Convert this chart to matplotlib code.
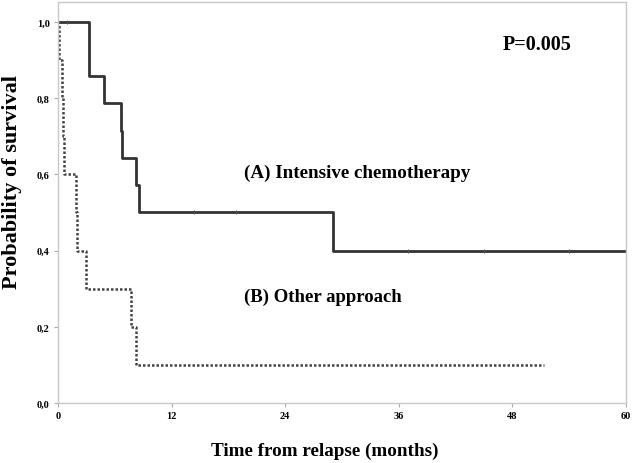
import numpy as np
from matplotlib import pyplot as plt

plt.rcParams['font.family'] = ['Liberation Serif', 'DejaVu Serif']

# Kaplan-Meier step data (months, survival)
a_time = [0, 3.3, 4.9, 6.7, 6.8, 8.2, 8.6, 29.0, 60]
a_surv = [1.0, 0.857, 0.786, 0.714, 0.643, 0.571, 0.5, 0.4, 0.4]
a_cens_t = [1.0, 14.4, 18.8, 37.0, 45.0, 54.0]
a_cens_s = [1.0, 0.5, 0.5, 0.4, 0.4, 0.4]

b_time = [0, 0.1, 0.4, 0.5, 0.6, 1.9, 2.0, 3.0, 7.7, 8.2, 51.3]
b_surv = [1.0, 0.9, 0.8, 0.7, 0.6, 0.5, 0.4, 0.3, 0.2, 0.1, 0.1]

xticks = [0, 12, 24, 36, 48, 60]
yticks = [0.0, 0.2, 0.4, 0.6, 0.8, 1.0]
ytick_labels = ["0,0", "0,2", "0,4", "0,6", "0,8", "1,0"]

fig = plt.figure(figsize=(6.33, 4.64), dpi=100)
ax = fig.add_axes([0.0916, 0.129, 0.8974, 0.8645])

ax.step(a_time, a_surv, where='post', color='#333333', lw=2.0)
ax.plot(a_cens_t, a_cens_s, linestyle='none', marker='|', ms=3, color='#555555', mew=0.8)
ax.step(b_time, b_surv, where='post', color='#444444', lw=1.8, linestyle=(0, (1, 0.8)))

ax.set_xlim(0, 60)
ax.set_ylim(0, 1.052)
ax.set_xticks(xticks)
ax.set_xticklabels([str(t) for t in xticks], fontsize=7.5, fontweight='bold')
ax.set_yticks(yticks)
ax.set_yticklabels(ytick_labels, fontsize=7.5, fontweight='bold')
ax.tick_params(length=3, width=0.8, color='#aaaaaa', pad=3)
for sp in ax.spines.values():
    sp.set_color('#c8c8c8')
    sp.set_linewidth(1.0)

ax.set_xlabel("Time from relapse (months)", fontsize=13.8, fontweight='bold')
ax.xaxis.set_label_coords(0.47, -0.095, transform=ax.transAxes)
ax.set_ylabel("Probability of survival", fontsize=16, fontweight='bold')
ax.yaxis.set_label_coords(-0.064, 0.553, transform=ax.transAxes)

ax.text(19.6, 0.606, "(A) Intensive chemotherapy", fontsize=13.7, fontweight='bold', va='center')
ax.text(19.6, 0.28, "(B) Other approach", fontsize=13.5, fontweight='bold', va='center')
ax.text(47.0, 0.942, "P=0.005", fontsize=14.5, fontweight='bold', va='center')

fig.savefig("out.png", dpi=100)
